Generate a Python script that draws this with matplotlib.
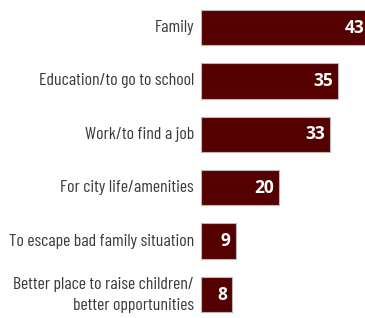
import matplotlib
matplotlib.use("Agg")
import matplotlib.pyplot as plt

# Reasons for moving (percent)
reasons = [
    "Family",
    "Education/to go to school",
    "Work/to find a job",
    "For city life/amenities",
    "To escape bad family situation",
    "Better place to raise children/\nbetter opportunities",
]
values = [43, 35, 33, 20, 9, 8]

bar_color = "#550000"
label_color = "#3a3a3a"
label_font = ["Barlow Condensed", "DejaVu Sans"]

fig = plt.figure(figsize=(3.65, 3.18), dpi=100)
ax = fig.add_axes([201 / 365, 0, 164 / 365, 1])

pos = list(range(len(values)))
ax.barh(pos, values, height=0.66, color=bar_color,
        edgecolor="#b8b8b8", linewidth=0.8)

ax.set_xlim(0, 41.8)
ax.set_ylim(5.44, -0.515)

for i, v in zip(pos, values):
    ax.annotate(str(v), xy=(v, i), xytext=(-4, 0), textcoords="offset points",
                ha="right", va="center", color="white", fontsize=12.5,
                fontweight="bold", family="Open Sans", annotation_clip=False)
    ax.annotate(reasons[i], xy=(0, i), xytext=(-5, 0), textcoords="offset points",
                ha="right", va="center", color=label_color, fontsize=12.8,
                family=label_font, fontstretch="condensed",
                linespacing=1.5, annotation_clip=False)

ax.axis("off")
fig.savefig("out.png", dpi=100)
